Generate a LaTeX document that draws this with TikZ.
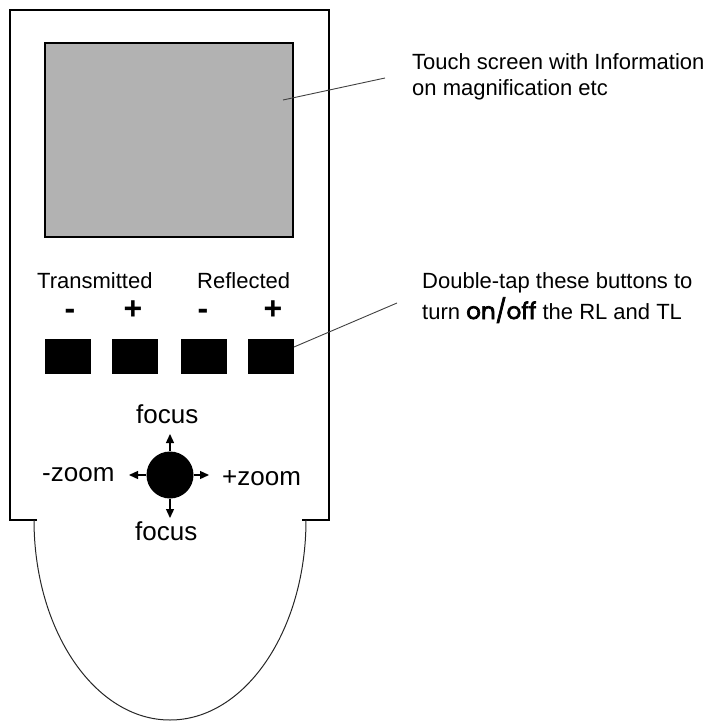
\documentclass[tikz,border=0pt]{standalone}
\usepackage{fontspec}
\setmainfont{Liberation Sans}
\newfontfamily\geofont[FakeBold=3]{Poppins}
\usetikzlibrary{arrows.meta}
\begin{document}
\begin{tikzpicture}[x=1pt,y=-1pt,
  note/.style={font=\fontsize{22}{26}\selectfont, inner sep=0pt, anchor=base west},
  joylbl/.style={font=\fontsize{26}{30}\selectfont, inner sep=0pt, anchor=base west},
  sign/.style={font=\fontsize{32}{34}\selectfont\bfseries, inner sep=0pt},
  btn/.style={fill=black, minimum width=46pt, minimum height=35pt, inner sep=0pt},
  leader/.style={draw=black!75, line width=0.9pt},
  joyarrow/.style={-{Triangle[length=9pt,width=8pt]}, line width=1.3pt},
  body/.style={line width=1.3pt}]
\useasboundingbox (0,0) rectangle (715,722);
% body outline
\draw[body] (37,520) -- (10,520) -- (10,10) -- (329,10) -- (329,520) -- (302,520);
\draw[line width=1pt, black!85] (34,520) arc[start angle=180, end angle=0, x radius=136, y radius=200];
% screen
\node[draw, body, fill=black!30, minimum width=248pt, minimum height=194pt, inner sep=0pt] (screen) at (169,140) {};
\coordinate (scrpt) at (283,100);
\node[note] (touch1) at (412,70) {Touch screen with Information};
\node[note] (touch2) at (412,96) {on magnification etc};
\coordinate (scrend) at (385,78);
\draw[leader] (scrpt) -- (scrend);
% button labels
\node[note] (trans) at (37,288) {Transmitted};
\node[note] (refl) at (197,288) {Reflected};
\node[sign] (m1) at (70,314) {-};
\node[sign] (p1) at (133,310) {+};
\node[sign] (m2) at (203,314) {-};
\node[sign] (p2) at (273,310) {+};
% buttons
\node[btn] (b1) at (68,356.5) {};
\node[btn] (b2) at (135,356.5) {};
\node[btn] (b3) at (203.5,356.5) {};
\node[btn] (b4) at (271,356.5) {};
\coordinate (btnpt) at (294,347);
\coordinate (btnend) at (397,303);
\draw[leader] (btnpt) -- (btnend);
\node[note] (dt1) at (422,288) {Double-tap these buttons to};
\node[note] (dt2) at (422,319) {turn {\geofont\fontsize{23}{26}\selectfont on/off} the RL and TL};
% joystick
\node[circle, fill=black, minimum size=47pt, inner sep=0pt] (joy) at (170,475) {};
\coordinate (jn) at (170,434);
\coordinate (js) at (170,518);
\coordinate (jw) at (129,475);
\coordinate (je) at (209,475);
\draw[joyarrow] (joy.north) -- (jn);
\draw[joyarrow] (joy.south) -- (js);
\draw[joyarrow] (joy.west) -- (jw);
\draw[joyarrow] (joy.east) -- (je);
\node[joylbl] (ftop) at (136,423) {focus};
\node[joylbl] (fbot) at (135,540) {focus};
\node[joylbl] (zminus) at (42,481) {-zoom};
\node[joylbl] (zplus) at (222,485) {+zoom};
\end{tikzpicture}
\end{document}
